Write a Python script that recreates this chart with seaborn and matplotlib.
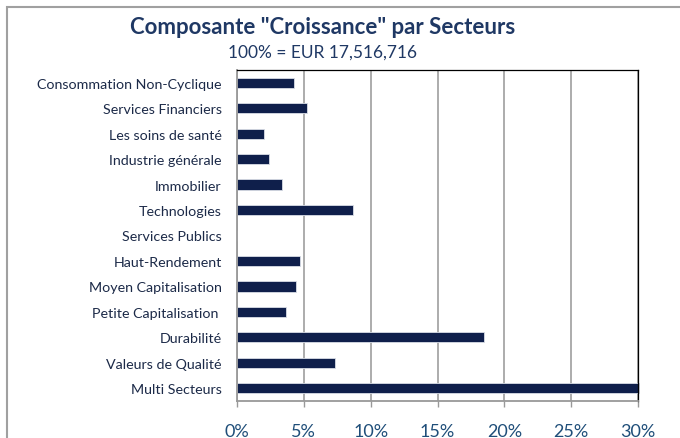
import matplotlib
matplotlib.use("Agg")
import matplotlib.pyplot as plt
import matplotlib.patches as patches
import seaborn as sns
import pandas as pd
import numpy as np

# sector labels and weights (% of growth component)
secteurs = [
    "Consommation Non-Cyclique",
    "Services Financiers",
    "Les soins de santé",
    "Industrie générale",
    "Immobilier",
    "Technologies",
    "Services Publics",
    "Haut-Rendement",
    "Moyen Capitalisation",
    "Petite Capitalisation ",
    "Durabilité",
    "Valeurs de Qualité",
    "Multi Secteurs",
]
poids = [4.3, 5.2, 2.0, 2.4, 3.4, 8.65, 0.0, 4.7, 4.4, 3.65, 18.5, 7.35, 30.1]
x_ticks = [0, 5, 10, 15, 20, 25, 30]

titre = 'Composante "Croissance" par Secteurs'
sous_titre = "100% = EUR 17,516,716"

navy = "#0f1f4b"
title_col = "#1f3864"

sns.set_style("white")
plt.rcParams["font.family"] = ["Lato", "DejaVu Sans"]

df = pd.DataFrame({"secteur": secteurs, "poids": poids})

fig = plt.figure(figsize=(6.8, 4.39), dpi=100)
ax = fig.add_axes([237 / 680, (439 - 402) / 439, (638 - 237) / 680, (402 - 71) / 439])

sns.barplot(data=df, x="poids", y="secteur", orient="h", color=navy,
            width=0.4, saturation=1, edgecolor="#d9dde6", linewidth=0.6, ax=ax)
for p in ax.patches:
    p.set_clip_on(False)

ax.set_xlim(0, 30)
ax.set_ylim(len(secteurs) - 0.5, -0.5)
ax.set_xticks(x_ticks)
ax.set_xticklabels([f"{t}%" for t in x_ticks], color="#1f4e79", fontsize=13)
ax.set_xlabel("")
ax.set_ylabel("")
ax.tick_params(axis="y", length=0, labelsize=10.3, labelcolor="#1c2a48", pad=11)
ax.set_yticks(np.arange(len(secteurs) + 1) - 0.5, minor=True)
ax.tick_params(axis="y", which="minor", length=4, color="#999999", width=1)
ax.tick_params(axis="x", length=4, color="#999999", width=1, pad=12, bottom=True)
ax.grid(axis="x", color="#a6a6a6", linewidth=1.3)
ax.set_axisbelow(True)

for side in ["left", "bottom"]:
    ax.spines[side].set_color("#999999")
    ax.spines[side].set_linewidth(1.3)
for side in ["top", "right"]:
    ax.spines[side].set_color("black")
    ax.spines[side].set_linewidth(0.9)

fig.text(323 / 680, 1 - 28 / 439, titre, ha="center", va="center",
         fontsize=16, fontweight="bold", color=title_col)
fig.text(323 / 680, 1 - 53 / 439, sous_titre, ha="center", va="center",
         fontsize=12.5, color=title_col)

# outer chart frame
frame = patches.Rectangle((6.5 / 680, -0.2), 1.2, 1.2 - 8 / 439,
                          transform=fig.transFigure, fill=False,
                          edgecolor="#a0a0a0", linewidth=1.5)
fig.add_artist(frame)

fig.savefig("out.png", dpi=100)
